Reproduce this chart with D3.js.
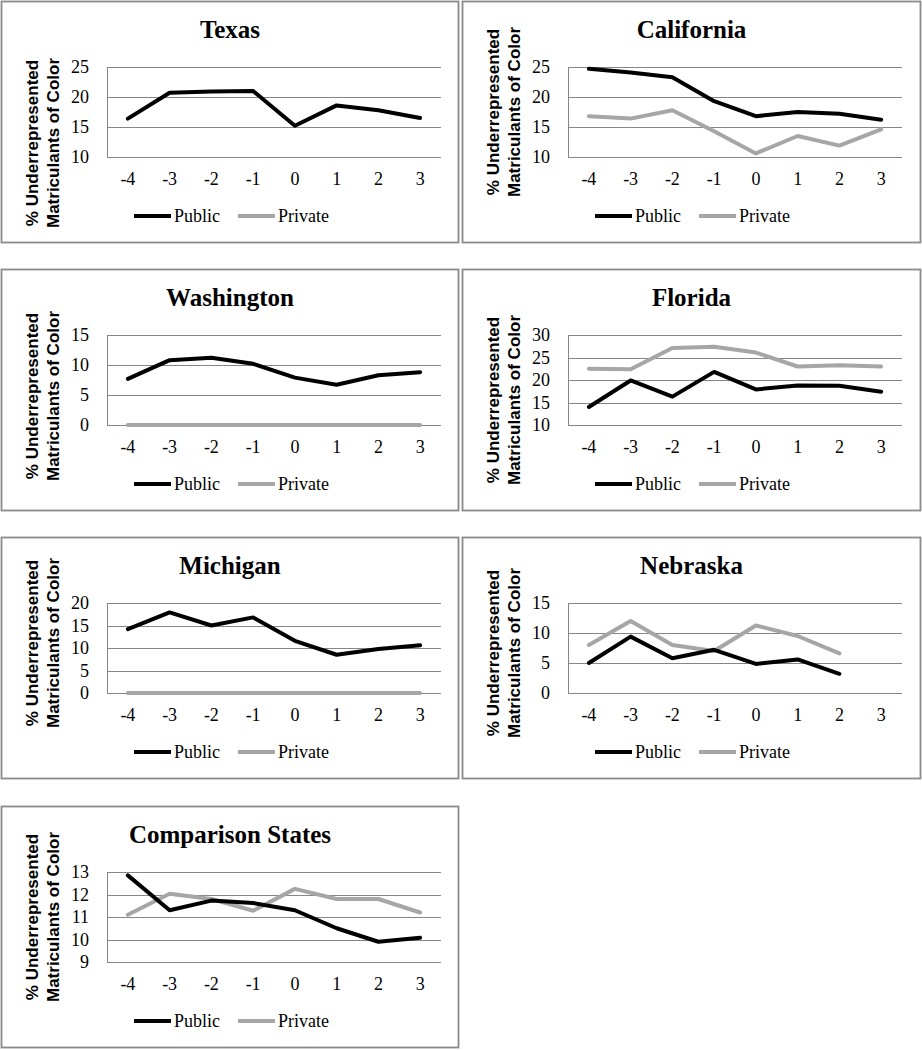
<!DOCTYPE html>
<html><head><meta charset="utf-8">
<script src="https://cdn.jsdelivr.net/npm/d3@7"></script>
<style>
html,body{margin:0;padding:0;background:#fff;}
svg{display:block;}
</style></head>
<body>
<script>
// ---------- DATA ----------
const years = [-4, -3, -2, -1, 0, 1, 2, 3];
const seriesNames = ["Public", "Private"];
const stateNames = ["Texas", "California", "Washington", "Florida", "Michigan", "Nebraska", "Comparison States"];

const texasPublic = [16.4, 20.7, 20.9, 21.0, 15.2, 18.6, 17.8, 16.5];
const texasPrivate = null;
const texasTicks = [10, 15, 20, 25];

const californiaPublic = [24.7, 24.1, 23.3, 19.3, 16.8, 17.5, 17.2, 16.2];
const californiaPrivate = [16.8, 16.4, 17.8, 14.3, 10.6, 13.5, 11.9, 14.6];
const californiaTicks = [10, 15, 20, 25];

const washingtonPublic = [7.7, 10.8, 11.2, 10.2, 7.9, 6.7, 8.3, 8.8];
const washingtonPrivate = [0, 0, 0, 0, 0, 0, 0, 0];
const washingtonTicks = [0, 5, 10, 15];

const floridaPublic = [14.0, 19.9, 16.3, 21.8, 17.9, 18.8, 18.7, 17.4];
const floridaPrivate = [22.5, 22.4, 27.1, 27.4, 26.1, 23.0, 23.3, 23.0];
const floridaTicks = [10, 15, 20, 25, 30];

const michiganPublic = [14.2, 17.9, 15.0, 16.8, 11.6, 8.5, 9.8, 10.6];
const michiganPrivate = [0, 0, 0, 0, 0, 0, 0, 0];
const michiganTicks = [0, 5, 10, 15, 20];

const nebraskaPublic = [5.0, 9.4, 5.8, 7.2, 4.85, 5.6, 3.2, null];
const nebraskaPrivate = [8.0, 12.0, 8.0, 7.0, 11.25, 9.5, 6.6, null];
const nebraskaTicks = [0, 5, 10, 15];

const comparisonPublic = [12.85, 11.3, 11.73, 11.62, 11.3, 10.5, 9.9, 10.08];
const comparisonPrivate = [11.1, 12.03, 11.8, 11.28, 12.25, 11.8, 11.8, 11.2];
const comparisonTicks = [9, 10, 11, 12, 13];

const yLabelLines = ["% Underrepresented", "Matriculants of Color"];

// ---------- LAYOUT (separate from data) ----------
const colX = [1, 462];
const colW = [458, 459];
const rowY = [1, 269, 537, 806];
const panelH = 242;
const yLabelCenter = [142, 111, 127, 131, 106, 116, 111];

const panels = [
  {name: stateNames[0], pub: texasPublic, priv: texasPrivate, ticks: texasTicks},
  {name: stateNames[1], pub: californiaPublic, priv: californiaPrivate, ticks: californiaTicks},
  {name: stateNames[2], pub: washingtonPublic, priv: washingtonPrivate, ticks: washingtonTicks},
  {name: stateNames[3], pub: floridaPublic, priv: floridaPrivate, ticks: floridaTicks},
  {name: stateNames[4], pub: michiganPublic, priv: michiganPrivate, ticks: michiganTicks},
  {name: stateNames[5], pub: nebraskaPublic, priv: nebraskaPrivate, ticks: nebraskaTicks},
  {name: stateNames[6], pub: comparisonPublic, priv: comparisonPrivate, ticks: comparisonTicks}
];

const colors = {Public: "#000000", Private: "#a6a6a6"};
const gridColor = "#868686";
const serif = "'Liberation Serif', 'Times New Roman', serif";
const sans = "'Liberation Sans', Arial, sans-serif";

const svg = d3.select("body").append("svg").attr("width", 922).attr("height", 1050);

panels.forEach((p, i) => {
  const col = i % 2, row = Math.floor(i / 2);
  const W = colW[col];
  const g = svg.append("g").attr("transform", `translate(${colX[col]},${rowY[row]})`);

  g.append("rect").attr("x", 0.5).attr("y", 0.5).attr("width", W - 1).attr("height", panelH - 1)
    .attr("fill", "#fff").attr("stroke", "#8a8a8a").attr("stroke-width", 1.8);

  const left = 106, top = 66, bottom = 156, right = left + 334;
  const x = d3.scaleBand().domain(years).range([left, right]);
  const y = d3.scaleLinear().domain(d3.extent(p.ticks)).range([bottom, top]);

  // gridlines
  g.append("g").selectAll("line").data(p.ticks).join("line")
    .attr("x1", left).attr("x2", right)
    .attr("y1", d => Math.round(y(d)) + 0.5).attr("y2", d => Math.round(y(d)) + 0.5)
    .attr("stroke", gridColor).attr("stroke-width", 1);
  g.append("line").attr("x1", left + 0.5).attr("x2", left + 0.5).attr("y1", top).attr("y2", bottom + 0.5)
    .attr("stroke", gridColor).attr("stroke-width", 1);

  // y tick labels
  g.append("g").selectAll("text").data(p.ticks).join("text")
    .attr("x", left - 18).attr("y", d => y(d) + 6)
    .attr("text-anchor", "end").attr("font-family", serif).attr("font-size", 18).attr("fill", "#000")
    .text(d => d);

  // x tick labels
  g.append("g").selectAll("text").data(years).join("text")
    .attr("x", d => x(d) + x.bandwidth() / 2).attr("y", 184)
    .attr("text-anchor", "middle").attr("font-family", serif).attr("font-size", 18).attr("fill", "#000")
    .text(d => d);

  // lines
  const line = d3.line()
    .defined(d => d.v !== null)
    .x(d => x(d.yr) + x.bandwidth() / 2)
    .y(d => y(d.v));
  [["Private", p.priv], ["Public", p.pub]].forEach(([nm, vals]) => {
    if (!vals) return;
    const pts = years.map((yr, k) => ({yr, v: vals[k]}));
    g.append("path").datum(pts).attr("d", line)
      .attr("fill", "none").attr("stroke", colors[nm]).attr("stroke-width", 4)
      .attr("stroke-linejoin", "round").attr("stroke-linecap", "round");
  });

  // title
  g.append("text").attr("x", W / 2).attr("y", 37).attr("text-anchor", "middle")
    .attr("font-family", serif).attr("font-weight", "bold").attr("font-size", 25).attr("fill", "#000")
    .text(p.name);

  // y label
  const yl = g.append("text").attr("transform", `translate(0,${yLabelCenter[i]}) rotate(-90)`)
    .attr("text-anchor", "middle").attr("font-family", sans).attr("font-weight", "bold")
    .attr("font-size", 17).attr("fill", "#000");
  yLabelLines.forEach((t, k) => {
    yl.append("tspan").attr("x", 0).attr("y", k === 0 ? 37 : 58).text(t);
  });

  // legend
  const legX = [133, 237];
  seriesNames.forEach((nm, k) => {
    g.append("line").attr("x1", legX[k]).attr("x2", legX[k] + 37).attr("y1", 215).attr("y2", 215)
      .attr("stroke", colors[nm]).attr("stroke-width", 4);
    g.append("text").attr("x", legX[k] + 40).attr("y", 221)
      .attr("font-family", serif).attr("font-size", 18).attr("fill", "#000").text(nm);
  });
});
</script>
</body></html>
